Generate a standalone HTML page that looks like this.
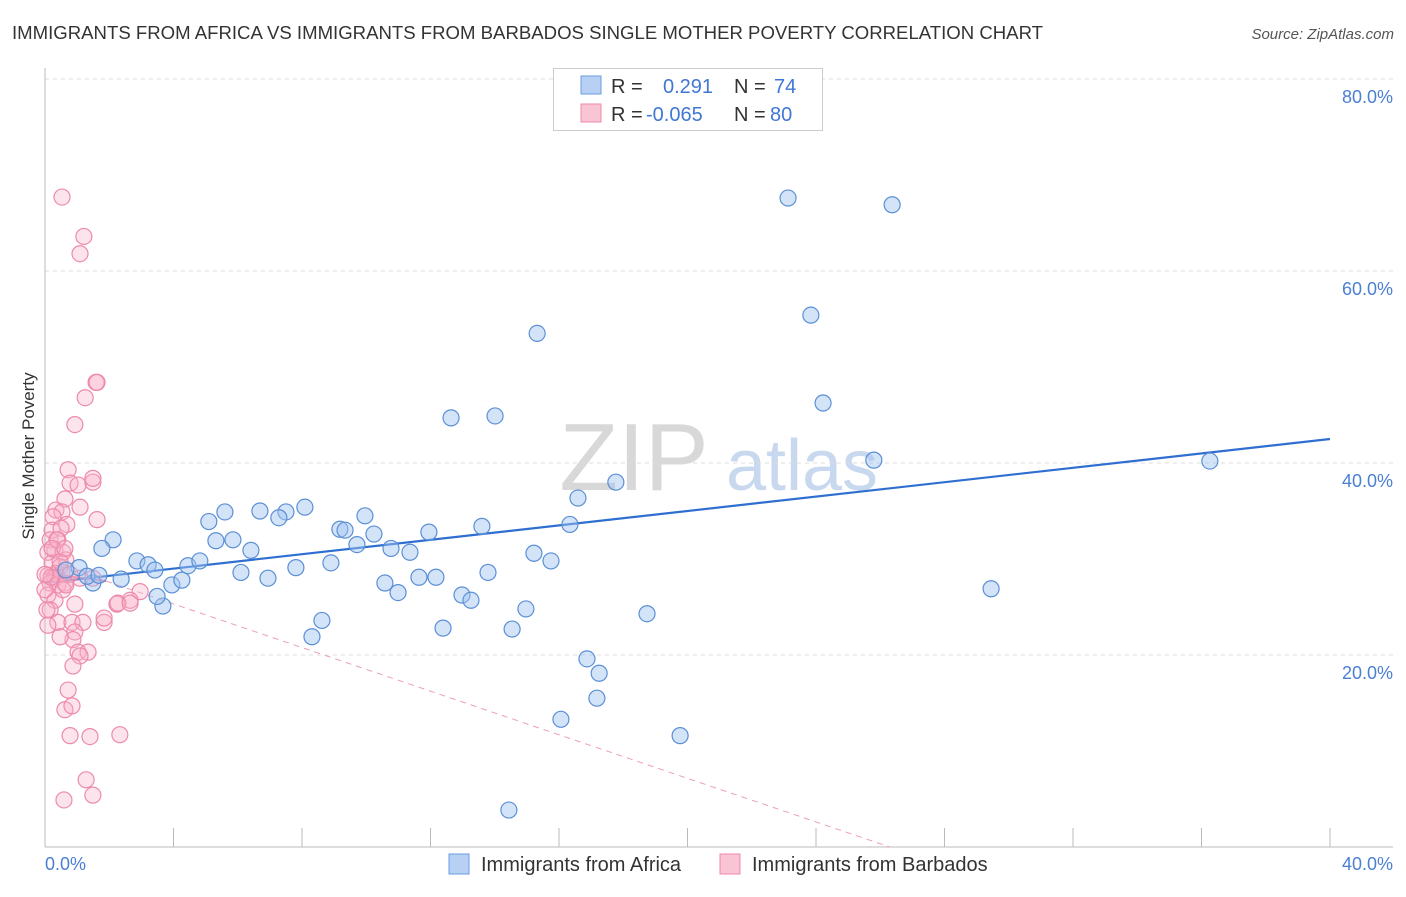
<!DOCTYPE html>
<html><head><meta charset="utf-8"><style>
body{margin:0;background:#fff;font-family:"Liberation Sans",sans-serif;}
svg text{font-family:"Liberation Sans",sans-serif;}
</style></head><body>
<svg id="chart" width="1406" height="892" viewBox="0 0 1406 892" xmlns="http://www.w3.org/2000/svg">
<text x="12" y="39" font-size="18" fill="#333" textLength="1031" lengthAdjust="spacingAndGlyphs">IMMIGRANTS FROM AFRICA VS IMMIGRANTS FROM BARBADOS SINGLE MOTHER POVERTY CORRELATION CHART</text>
<text x="1394" y="39" font-size="15" fill="#555" font-style="italic" text-anchor="end">Source: ZipAtlas.com</text>
<g>
<text x="634" y="490" font-size="96" fill="#d8d8d8" font-family="Liberation Serif" text-anchor="middle">ZIP</text>
<text x="802" y="490" font-size="72" fill="#c8d8ee" text-anchor="middle">atlas</text>
</g>
<g id="grid"></g>
<g id="axes"></g>
<g id="trend"></g>
<g id="pts"></g>
<text transform="translate(34,456) rotate(-90)" font-size="17" fill="#333" text-anchor="middle">Single Mother Poverty</text>
<g>
<rect x="553.5" y="68.5" width="269" height="62" fill="#fff" stroke="#ccc"/>
<rect x="581" y="76" width="20" height="18" fill="#b8d0f4" stroke="#6a9be0"/>
<rect x="581" y="104" width="20" height="18" fill="#f9c4d3" stroke="#ec8aab"/>
<text x="611" y="93" font-size="20" fill="#333">R = </text><text x="663" y="93" font-size="20" fill="#3f78d4">0.291</text>
<text x="734" y="93" font-size="20" fill="#333">N = </text><text x="774" y="93" font-size="20" fill="#3f78d4">74</text>
<text x="611" y="121" font-size="20" fill="#333">R = </text><text x="646" y="121" font-size="20" fill="#3f78d4">-0.065</text>
<text x="734" y="121" font-size="20" fill="#333">N = </text><text x="770" y="121" font-size="20" fill="#3f78d4">80</text>
</g>
<g>
<rect x="449" y="854" width="20" height="20" fill="#b8d0f4" stroke="#6a9be0"/>
<text x="481" y="871" font-size="20" fill="#333">Immigrants from Africa</text>
<rect x="720" y="854" width="20" height="20" fill="#f9c4d3" stroke="#ec8aab"/>
<text x="752" y="871" font-size="20" fill="#333">Immigrants from Barbados</text>
</g>
</svg>
<script>
const yTicks=[20,40,60,80];
const yTickLabels=["20.0%","40.0%","60.0%","80.0%"];
const xTickCount=10;
const africaX=[23.13,26.37,23.84,15.32,24.22,12.64,14.01,25.8,36.26,17.77,16.59,8.09,6.69,5.60,5.10,7.50,7.28,9.18,9.34,9.96,13.60,16.34,11.95,10.24,9.71,10.77,11.36,8.90,7.81,15.22,15.75,13.79,11.64,12.17,10.58,10.99,12.98,13.26,14.97,3.67,3.49,3.95,4.26,4.45,4.82,6.10,6.94,5.85,5.32,6.41,2.12,1.77,2.86,3.21,3.42,2.37,1.49,1.06,1.31,1.68,0.65,8.62,8.31,12.39,14.54,18.74,29.45,16.87,17.25,17.18,16.06,19.77,14.44];
const africaY=[67.6,66.9,55.4,53.5,46.25,44.7,44.9,40.3,40.2,38.0,36.35,35.4,35.0,34.9,33.9,34.9,34.3,33.1,33.0,34.5,33.4,33.6,32.8,32.6,31.5,31.1,30.7,29.6,29.1,30.6,29.8,28.6,28.1,28.1,27.5,26.5,26.25,25.7,24.8,25.1,26.1,27.3,27.8,29.3,29.8,28.6,28.0,32.0,31.9,30.9,32.0,31.1,29.8,29.4,28.85,27.9,27.5,29.1,28.2,28.3,28.85,23.6,21.9,22.8,22.7,24.3,26.9,19.6,18.1,15.5,13.3,11.6,3.85];
const barbadosX=[0.53,1.21,1.09,1.59,1.62,1.25,0.93,0.72,0.78,1.49,1.49,1.03,0.62,1.09,0.34,0.53,0.25,0.68,1.62,0.22,0.50,0.16,0.40,0.31,0.56,0.65,0.09,0.22,0.47,0.09,0.34,0.53,0.31,0.16,0.40,0.62,1.09,1.49,0.09,0.31,2.96,2.65,2.24,2.27,0.93,0.16,0.40,0.84,1.18,1.84,1.84,0.93,0.87,0.47,1.03,1.34,1.09,0.87,0.72,0.62,0.84,0.78,1.40,2.33,1.28,1.49,0.59,0.09,0.37,0.56,0.0,0.06,0.19,0.78,0.0,0.47,0.65,2.65,0.22,0.62];
const barbadosY=[67.7,63.6,61.8,48.4,48.4,46.8,44.0,39.3,37.9,38.0,38.4,37.7,36.25,35.4,35.1,34.9,34.4,33.6,34.1,33.0,33.2,32.0,32.0,30.9,30.7,29.9,30.7,29.6,29.2,28.3,28.5,28.6,28.0,27.5,27.3,27.5,28.0,28.0,26.25,25.7,26.6,25.7,25.3,25.4,25.3,24.7,23.4,23.4,23.4,23.4,23.85,22.4,21.6,21.9,20.3,20.3,19.9,18.85,16.35,14.3,14.7,11.6,11.5,11.7,7.0,5.4,4.9,23.1,32.0,26.8,26.8,24.7,28.1,28.4,28.4,29.7,27.3,25.4,31.1,31.1];
const africaTrend=[[0,27.5],[40,42.5]];
const barbadosTrendSolid=[[0,28.5],[1.9,27.7]];
const barbadosTrendDash=[[1.9,27.7],[26.3,0]];
const X0=45,X1=1330,Y0=847,PY=9.6;
const sx=v=>X0+v*(X1-X0)/40, sy=v=>Y0-v*PY;
const NS="http://www.w3.org/2000/svg";
function mk(tag,attrs,parent){const e=document.createElementNS(NS,tag);for(const k in attrs)e.setAttribute(k,attrs[k]);parent.appendChild(e);return e;}
const grid=document.getElementById('grid'),axes=document.getElementById('axes'),trend=document.getElementById('trend'),pts=document.getElementById('pts');
yTicks.forEach((t,i)=>{
 const l=mk('line',{x1:X0,x2:1393,y1:sy(t),y2:sy(t),stroke:'#ddd','stroke-dasharray':'4,4'},grid);
 
 
 const tx=mk('text',{x:1393,y:sy(t)+24,'font-size':18,fill:'#4a7fd4','text-anchor':'end'},axes);
 tx.textContent=yTickLabels[i];
 
 
});
mk('line',{x1:X0,x2:X0,y1:68,y2:Y0,stroke:'#bbb'},axes);
mk('line',{x1:X0,x2:1393,y1:Y0,y2:Y0,stroke:'#bbb'},axes);
for(let i=1;i<=xTickCount;i++){const t=mk('line',{x1:sx(i*4),x2:sx(i*4),y1:828,y2:Y0,stroke:'#bbb'},axes);
 
 }
const xl=mk('text',{x:45,y:870,'font-size':18,fill:'#4a7fd4'},axes);xl.textContent='0.0%';


const xr=mk('text',{x:1393,y:870,'font-size':18,fill:'#4a7fd4','text-anchor':'end'},axes);xr.textContent='40.0%';


function seg(p,attrs,name){const l=mk('line',Object.assign({x1:sx(p[0][0]),y1:sy(p[0][1]),x2:sx(p[1][0]),y2:sy(p[1][1])},attrs),trend);
 
 }
seg(barbadosTrendDash,{stroke:'#eaa0b8','stroke-width':1,'stroke-dasharray':'6,5'},'barbados-trend-dashed');
seg(barbadosTrendSolid,{stroke:'#e8779d','stroke-width':2},'barbados-trend');
function dots(xs,ys,fill,stroke,name){xs.forEach((x,i)=>{const c=mk('circle',{cx:sx(x),cy:sy(ys[i]),r:8,fill:fill,stroke:stroke,'stroke-width':1.2},pts);
 
 });}
dots(barbadosX,barbadosY,'rgba(248,178,200,0.35)','#ec8aab','barbados-point');
dots(africaX,africaY,'rgba(160,196,240,0.45)','#5b8fd6','africa-point');
seg(africaTrend,{stroke:'#2f6fd1','stroke-width':2.2},'africa-trend');
</script>
</body></html>
